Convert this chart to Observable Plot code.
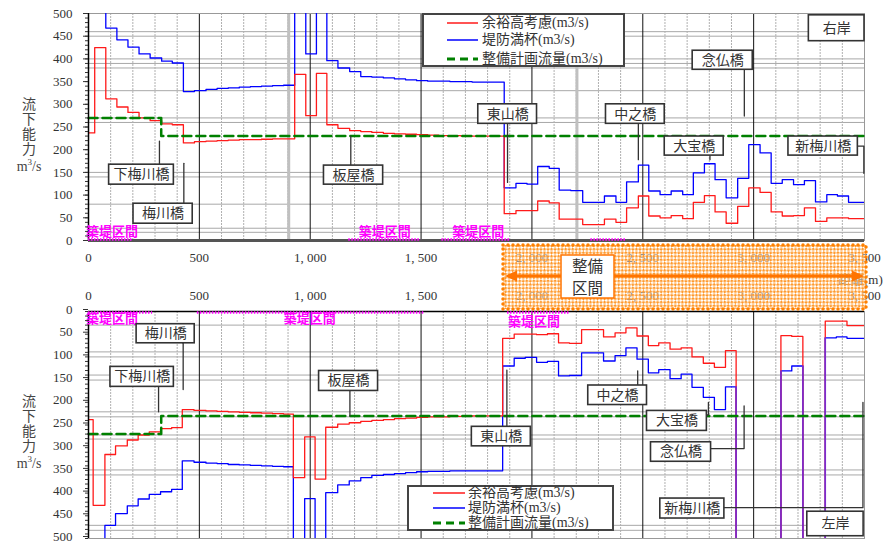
<!DOCTYPE html>
<html><head><meta charset="utf-8">
<script src="https://cdn.jsdelivr.net/npm/d3@7"></script>
<script src="https://cdn.jsdelivr.net/npm/@observablehq/plot@0.6"></script>
<style>
body{margin:0;background:#fff;}
#wrap{position:relative;width:896px;height:544px;overflow:hidden;font-family:"Liberation Serif","Noto Sans CJK JP",serif;color:#333;}
.yv{font-family:"Noto Sans CJK JP",sans-serif;font-size:14px;line-height:18px;width:18px;writing-mode:vertical-rl;text-orientation:upright;letter-spacing:1px;color:#444;}
.unit{font-family:"Liberation Serif",serif;font-size:14px;line-height:14px;color:#444;width:40px;text-align:center;}
.legend{background:#fff;border:2px solid #444;box-sizing:border-box;}
.lrow{position:absolute;font-size:14px;white-space:nowrap;font-family:"Liberation Serif","Noto Sans CJK JP",serif;color:#333;}
</style></head><body><div id="wrap"></div>
<script>
// ---------- data ----------
const xTicks = [0, 500, 1000, 1500, 2000, 2500, 3000, 3500];
const yTicks = [0, 50, 100, 150, 200, 250, 300, 350, 400, 450, 500];
const majorX = [500, 1000, 1500, 2000, 2500, 3000];
const minorX = [100,200,300,400,600,700,800,900,1100,1200,1300,1400,1600,1700,1800,1900,2100,2200,2300,2400,2600,2700,2800,2900,3100,3200,3300,3400];
const gridTop = [18, 27, 80, 140, 150, 260, 270, 330, 380, 390, 400, 450, 460];
const gridBottom = [30, 89, 100, 140, 151, 221, 232, 272, 281, 349, 360, 471, 482];

// right bank (top panel): step start distance (m) and capacity (m3/s); 600 = off chart
const rightX = [0,28,78,128,178,228,278,330,378,428,
  478,530,580,630,680,730,780,830,880,930,
  980,1028,1075,1125,1178,1228,1278,1330,1380,1430,
  1480,1530,1580,1630,1680,1730,1780,1830,1875,1928,
  1978,2026,2078,2123,2175,2229,2278,2327,2379,2427,
  2480,2527,2578,2628,2680,2728,2778,2826,2876,2928,
  2978,3029,3079,3129,3180,3229,3279,3330,3378,3428,
  3500];
const rightRed = [237,425,312,294,282,270,264,257,255,215,
  218,219,220,221,222,222,223,224,224,366,
  275,368,255,247,242,240,238,236,235,234,
  233,232,231,231,230,230,230,230,59,66,
  66,87,83,47,47,35,35,47,40,72,
  98,54,50,55,48,84,99,63,38,75,
  116,106,63,54,55,72,42,50,50,48,
  48];
const rightBlue = [600,600,468,442,426,411,402,395,391,328,
  330,333,335,336,338,339,340,341,342,600,
  411,600,396,380,372,361,360,358,356,354,
  352,351,351,350,350,349,349,349,116,126,
  124,163,159,111,110,84,84,98,84,129,
  166,109,101,109,101,149,169,134,94,137,
  211,193,126,134,123,132,85,101,98,84,
  84];

// left bank (bottom panel)
const leftX = [0,21,74,122,175,224,274,325,375,423,
  476,530,580,630,680,730,780,830,880,924,
  975,1022,1070,1124,1176,1228,1278,1330,1380,1430,
  1480,1530,1580,1630,1680,1730,1780,1830,1868,1920,
  1970,2021,2070,2120,2169,2224,2275,2323,2375,2424,
  2474,2525,2572,2623,2673,2722,2773,2823,2873,2921,
  3123,3172,3222,3323,3373,3421,3500];
const leftRed = [238,427,315,296,283,272,265,258,256,216,
  218,219,220,221,222,223,224,225,226,366,
  276,369,255,248,245,242,240,238,236,235,
  233,232,232,231,231,230,230,230,59,50,
  50,51,49,69,70,40,40,56,47,36,
  54,75,69,83,80,100,114,123,86,600,
  53,55,600,21,21,31,31];
const leftBlue = [600,600,471,445,428,413,403,397,392,329,
  332,334,335,337,338,339,340,341,342,600,
  412,600,399,382,373,366,361,359,357,355,
  353,352,352,351,351,351,351,351,120,103,
  101,112,110,142,141,91,91,109,97,80,
  105,135,128,148,138,167,189,216,166,600,
  131,120,600,58,56,59,59];

const planX = [0, 328, 3500];
const planFlow = [270, 230, 230];

const seriesNames = ["余裕高考慮(m3/s)", "堤防満杯(m3/s)", "整備計画流量(m3/s)"];

// annotation boxes (data units) and leader lines
const boxesTop = [
  {name:"下梅川橋", x1:93, x2:385, y1:123, y2:167},
  {name:"梅川橋", x1:203, x2:470, y1:37, y2:81},
  {name:"板屋橋", x1:1062, x2:1329, y1:123, y2:165},
  {name:"東山橋", x1:1758, x2:2023, y1:257, y2:300},
  {name:"中之橋", x1:2334, x2:2599, y1:257, y2:300},
  {name:"大宝橋", x1:2599, x2:2865, y1:187, y2:229},
  {name:"念仏橋", x1:2725, x2:2996, y1:376, y2:418},
  {name:"新梅川橋", x1:3157, x2:3470, y1:187, y2:229},
  {name:"右岸", x1:3249, x2:3500, y1:439, y2:496}
];
const leadersTop = [
  {name:"下梅川橋", pts:[[320,167],[320,219]]},
  {name:"梅川橋", pts:[[430,170],[430,81]]},
  {name:"板屋橋", pts:[[1183,230],[1183,165]]},
  {name:"東山橋", pts:[[1890,257],[1890,128]]},
  {name:"中之橋", pts:[[2480,257],[2480,178]]},
  {name:"大宝橋", pts:[[2803,187],[2803,178]]},
  {name:"念仏橋", pts:[[2958,376],[2958,274]]},
  {name:"新梅川橋", pts:[[3470,208],[3497,208],[3497,148]]}
];
const boxesBottom = [
  {name:"梅川橋", x1:217, x2:479, y1:28, y2:70},
  {name:"下梅川橋", x1:99, x2:385, y1:122, y2:166},
  {name:"板屋橋", x1:1040, x2:1306, y1:131, y2:175},
  {name:"東山橋", x1:1729, x2:1995, y1:254, y2:297},
  {name:"中之橋", x1:2254, x2:2519, y1:163, y2:206},
  {name:"大宝橋", x1:2519, x2:2789, y1:219, y2:263},
  {name:"念仏橋", x1:2537, x2:2808, y1:288, y2:331},
  {name:"新梅川橋", x1:2579, x2:2868, y1:412, y2:456},
  {name:"左岸", x1:3242, x2:3496, y1:441, y2:495}
];
const leadersBottom = [
  {name:"梅川橋", pts:[[427,70],[427,172]]},
  {name:"下梅川橋", pts:[[316,166],[316,221]]},
  {name:"板屋橋", pts:[[1179,175],[1179,230]]},
  {name:"東山橋", pts:[[1887,254],[1887,129]]},
  {name:"中之橋", pts:[[2477,163],[2477,131]]},
  {name:"大宝橋", pts:[[2789,228],[2796,228],[2796,200]]},
  {name:"念仏橋", pts:[[2808,302],[2957,302],[2957,208]]},
  {name:"新梅川橋", pts:[[2868,432],[3493,432],[3493,200]]}
];
const zonesTop = [[0,200],[1174,1499],[1594,1905],[2266,2424]];
const zoneLabelsTop = [{x:106,y:18},{x:1336,y:18},{x:1758,y:18}];
const zonesBottom = [[0,289],[491,1512],[1890,2167]];
const zoneLabelsBottom = [{x:106,y:17},{x:998,y:17},{x:2009,y:23}];

// ---------- drawing ----------
const FONT = '"Liberation Serif","Noto Sans CJK JP",serif';
const JFONT = '"Noto Sans CJK JP",sans-serif';
const yMinor = d3.range(0, 501, 10);
const fmtX = d => d3.format(",")(d).replace(",", ", ");
const OFF = 600;

// vertical segments where both series leave the chart together (drawn purple, as overlapping red+blue)
function sharedDrops(X, red, blue) {
  const out = [];
  for (let i = 1; i < X.length; i++) {
    const offNow = red[i] === OFF && blue[i] === OFF;
    const offPrev = red[i - 1] === OFF && blue[i - 1] === OFF;
    if (offNow && !offPrev) out.push({x: X[i], y: Math.max(red[i - 1], blue[i - 1])});
    if (!offNow && offPrev) out.push({x: X[i], y: Math.max(red[i], blue[i])});
  }
  return out;
}

function panel(o) {
  const rows = o.X.map((x, i) => ({x, red: o.red[i], blue: o.blue[i]}));
  const plan = planX.map((x, i) => ({x, y: planFlow[i]}));
  const leaders = o.leaders.flatMap(l => l.pts.map(([x, y]) => ({id: l.name, x, y})));
  const drops = sharedDrops(o.X, o.red, o.blue);
  return Plot.plot({
    width: 896, height: o.height,
    marginLeft: 88, marginRight: 32, marginTop: o.mt, marginBottom: o.mb,
    x: {domain: [0, 3500]},
    y: {domain: [0, 500], reverse: o.reverse},
    style: {fontFamily: FONT, fontSize: "13px", color: "#333", background: "transparent", overflow: "visible"},
    marks: [
      Plot.ruleY(o.gridY, {stroke: "#a8a8a8", strokeWidth: 1}),
      Plot.ruleX(minorX, {stroke: "#b0b0b0", strokeWidth: 1, strokeDasharray: "2,1"}),
      Plot.ruleX(o.thickX, {stroke: "#c0c0c0", strokeWidth: 3}),
      Plot.ruleX(majorX, {stroke: "#111", strokeWidth: 1}),
      Plot.frame({stroke: "#999", strokeWidth: 1}),
      Plot.line(rows, {x: "x", y: "blue", curve: "step-after", stroke: "#0000ff", strokeWidth: 1.3, clip: true}),
      Plot.line(rows, {x: "x", y: "red", curve: "step-after", stroke: "#ff1a1a", strokeWidth: 1.3, clip: true}),
      Plot.ruleX(drops, {x: "x", y1: "y", y2: 500, stroke: "#7a2ccf", strokeWidth: 1.6}),
      Plot.line(plan, {x: "x", y: "y", curve: "step-after", stroke: "#008000", strokeWidth: 2.5, strokeDasharray: "9,5"}),
      Plot.ruleY([0], {stroke: o.axisColor, strokeWidth: o.axisWidth}),
      Plot.ruleX([0], {stroke: "#000", strokeWidth: 1.5}),
      Plot.ruleY(o.zones, {y: () => 0, x1: d => d[0], x2: d => d[1], stroke: "#ff00ff", strokeWidth: 2.5, strokeDasharray: "1.5,1.5", dy: o.zoneDy}),
      Plot.text(o.zoneLabels, {x: "x", y: "y", text: () => "築堤区間", fill: "#ff00ff", fontSize: 13, fontWeight: "bold", fontFamily: JFONT}),
      Plot.axisY({ticks: yMinor, tickSize: 3, tickFormat: () => "", label: null}),
      Plot.axisY({ticks: yTicks, tickSize: 5, tickPadding: 11, fontSize: 13, label: null, dy: o.yLabelDy}),
      Plot.axisX({ticks: xTicks, anchor: o.xAnchor, tickSize: 0, tickPadding: 12, tickFormat: fmtX, fontSize: 13, label: null}),
      Plot.line(leaders, {x: "x", y: "y", z: "id", stroke: "#333", strokeWidth: 1.3}),
      Plot.rect(o.boxes, {x1: "x1", x2: "x2", y1: "y1", y2: "y2", fill: "white", stroke: "#333", strokeWidth: 1.6}),
      Plot.text(o.boxes, {x: d => (d.x1 + d.x2) / 2, y: d => (d.y1 + d.y2) / 2, text: "name", fontSize: 14, fill: "#333", fontFamily: JFONT})
    ]
  });
}

const wrap = document.getElementById("wrap");
function place(el, left, top) { el.style.position = "absolute"; el.style.left = left + "px"; el.style.top = top + "px"; wrap.appendChild(el); return el; }

const top1 = panel({X: rightX, red: rightRed, blue: rightBlue, gridY: gridTop, thickX: [903, 2203], reverse: false,
  height: 270, mt: 13, mb: 30, xAnchor: "bottom", axisColor: "#555", axisWidth: 3, yLabelDy: 0,
  zones: zonesTop, zoneLabels: zoneLabelsTop, zoneDy: -1, boxes: boxesTop, leaders: leadersTop});
place(top1, 0, 0);
const bot = panel({X: leftX, red: leftRed, blue: leftBlue, gridY: gridBottom, thickX: [], reverse: true,
  height: 274, mt: 41, mb: 6, xAnchor: "top", axisColor: "#000", axisWidth: 1.5, yLabelDy: -2,
  zones: zonesBottom, zoneLabels: zoneLabelsBottom, zoneDy: 1, boxes: boxesBottom, leaders: leadersBottom});
place(bot, 0, 270);

// y-axis titles (one vertical text + unit)
function ylab(topY) {
  const d = document.createElement("div"); d.className = "yv"; d.textContent = "流下能力";
  place(d, 20, topY);
  const u = document.createElement("div"); u.className = "unit"; u.innerHTML = "m<sup style='font-size:9px;line-height:0'>3</sup>/s";
  place(u, 9, topY + 63);
}
ylab(97); ylab(394);

// legends
const legendColors = [["#ff1a1a", "", 1.5], ["#0000ff", "", 1.5], ["#008000", "8,5", 3]];
function legend(left, top, w, h, rows, sx1, sx2, tx) {
  const box = document.createElement("div"); box.className = "legend";
  box.style.width = w + "px"; box.style.height = h + "px";
  place(box, left, top);
  rows.forEach((ry, i) => {
    const [c, dash, sw] = legendColors[i];
    const ns = "http://www.w3.org/2000/svg";
    const s = document.createElementNS(ns, "svg");
    s.setAttribute("width", sx2 - sx1 + 2); s.setAttribute("height", 6);
    s.style.position = "absolute"; s.style.left = (sx1 - 2) + "px"; s.style.top = (ry - 3 - 2) + "px";
    const ln = document.createElementNS(ns, "line");
    ln.setAttribute("x1", 0); ln.setAttribute("x2", sx2 - sx1); ln.setAttribute("y1", 3); ln.setAttribute("y2", 3);
    ln.setAttribute("stroke", c); ln.setAttribute("stroke-width", sw);
    if (dash) ln.setAttribute("stroke-dasharray", dash);
    s.appendChild(ln); box.appendChild(s);
    const t = document.createElement("div"); t.className = "lrow"; t.textContent = seriesNames[i];
    t.style.left = (tx - 2) + "px"; t.style.top = (ry - 2 - 8) + "px"; t.style.lineHeight = "16px";
    box.appendChild(t);
  });
}
legend(422, 13, 203, 54, [10, 27, 46], 25, 56, 60);
legend(407, 485, 207, 46, [8, 23, 38], 26, 58, 61);

// distance label
const dist = document.createElement("div");
dist.textContent = "距離(m)"; dist.style.fontSize = "13px"; dist.style.fontFamily = FONT; dist.style.color = "#333";
place(dist, 838, 269);

// 整備区間 overlay
const ov = document.createElement("div");
ov.innerHTML = `<svg width="896" height="544" style="position:absolute;left:0;top:0">
<defs><pattern id="chk" width="5" height="5" patternUnits="userSpaceOnUse" patternTransform="rotate(45)">
<rect width="5" height="5" fill="white" fill-opacity="0.45"/>
<rect width="2.5" height="2.5" fill="#ff9a2e"/><rect x="2.5" y="2.5" width="2.5" height="2.5" fill="#ff9a2e"/></pattern></defs>
<rect x="503" y="245" width="363" height="64" fill="url(#chk)" stroke="#ff8000" stroke-width="3.5" stroke-dasharray="0 5" stroke-linecap="round"/>
<line x1="514" y1="276" x2="854" y2="276" stroke="#ff7400" stroke-width="3"/>
<polygon points="505,276 517,270.5 517,281.5" fill="#ff7400"/>
<polygon points="864,276 852,270.5 852,281.5" fill="#ff7400"/>
<rect x="561" y="255" width="53" height="43" fill="white" stroke="#ff7400" stroke-width="1.5"/>
<text x="587.5" y="271.5" text-anchor="middle" font-size="15.5" fill="#333" font-family='"Noto Sans CJK JP",sans-serif'>整備</text>
<text x="587.5" y="294" text-anchor="middle" font-size="15.5" fill="#333" font-family='"Noto Sans CJK JP",sans-serif'>区間</text>
</svg>`;
place(ov, 0, 0); ov.style.width = "896px"; ov.style.height = "544px"; ov.style.pointerEvents = "none";
</script></body></html>
